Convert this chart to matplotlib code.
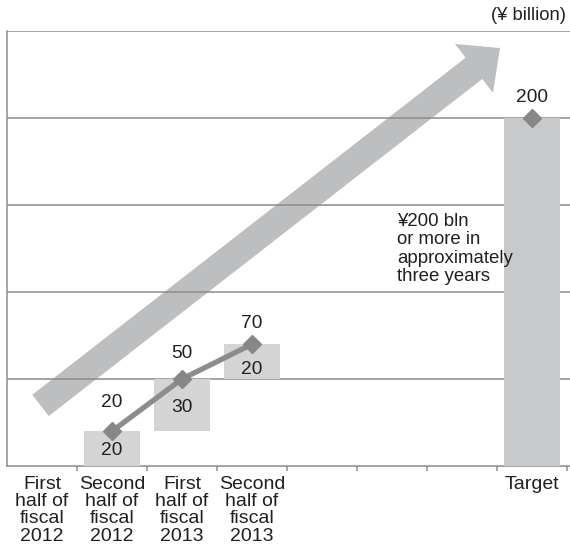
import numpy as np
import matplotlib
matplotlib.use('Agg')
import matplotlib.pyplot as plt
from matplotlib.patches import FancyArrowPatch

plt.rcParams['font.family'] = ['Liberation Sans', 'DejaVu Sans']

categories = ["First\nhalf of\nfiscal\n2012", "Second\nhalf of\nfiscal\n2012",
              "First\nhalf of\nfiscal\n2013", "Second\nhalf of\nfiscal\n2013",
              "", "", "", "Target"]
step_pos = [1, 2, 3]
step_add = [20, 30, 20]
step_base = [0, 20, 50]
cum_pos = [1, 2, 3]
cum_val = [20, 50, 70]
target_pos = 7
target_val = 200

TXT = '#231f20'
GRID = '#8c8c8c'

fig = plt.figure(figsize=(5.70, 5.53), dpi=100)
ax = fig.add_axes([7 / 570, 87 / 553, 563 / 570, 435 / 553])

ax.set_xlim(-0.5, 7.5 + 3 / 70)
ax.set_ylim(0, 250)
x = np.arange(len(categories))

# big trend arrow (behind everything)
arrow = FancyArrowPatch((-0.021, 34.8), (6.543, 240.2),
                        arrowstyle="simple,head_length=23.8,head_width=44.6,tail_width=19.4",
                        mutation_scale=1, shrinkA=0, shrinkB=0,
                        color='#bdbec0', lw=0, zorder=1)
ax.add_patch(arrow)

for yv in [50, 100, 150, 200, 250]:
    ax.axhline(yv, color=GRID, lw=1.1, zorder=2)

ax.bar(step_pos, step_add, bottom=step_base, width=0.81, color='#d4d4d4', zorder=3)
ax.bar([target_pos], [target_val], width=0.8, color='#c8c9cb', zorder=3)

ax.plot(cum_pos, cum_val, color='#8c8c8c', lw=3.8, zorder=4)
ax.plot(cum_pos + [target_pos], cum_val + [target_val], 'D', ls='none',
        color='#878787', ms=9, zorder=5)

# labels inside the step bars
inner_dy = [-2, -2, -8]
for p, b, v, dy in zip(step_pos, step_base, step_add, inner_dy):
    ax.annotate(str(v), (p, b + v / 2), xytext=(0, dy * 0.72), textcoords='offset points',
                ha='center', va='center', fontsize=13.8, color=TXT, zorder=6)

# cumulative labels above markers
top_dy = [29, 26, 21, 20]
for p, v, dy in zip(cum_pos + [target_pos], cum_val + [target_val], top_dy):
    ax.annotate(str(v), (p, v), xytext=(0, dy * 0.72), textcoords='offset points',
                ha='center', va='center', fontsize=13.8, color=TXT, zorder=6)

fig.text(397 / 570, 1 - 213 / 553, "\u00a5200 bln\nor more in\napproximately\nthree years",
         ha='left', va='top', fontsize=13.4, color=TXT, linespacing=1.1)
fig.text(566 / 570, 1 - 15 / 553, "(\u00a5 billion)", ha='right', va='center',
         fontsize=13.2, color=TXT)

for s in ['top', 'right']:
    ax.spines[s].set_visible(False)
for s in ['left', 'bottom']:
    ax.spines[s].set_color(GRID)
    ax.spines[s].set_linewidth(1.1)

ax.set_yticks([])
ax.set_xticks(x)
ax.set_xticklabels(categories, fontsize=14, color=TXT, linespacing=1.02)
ax.tick_params(axis='x', which='major', length=0, pad=7)
ax.set_xticks(np.arange(0.5, 8, 1), minor=True)
ax.tick_params(axis='x', which='minor', length=3.6, width=1.1, color=GRID)

fig.savefig('out.png', dpi=100, facecolor='white')
